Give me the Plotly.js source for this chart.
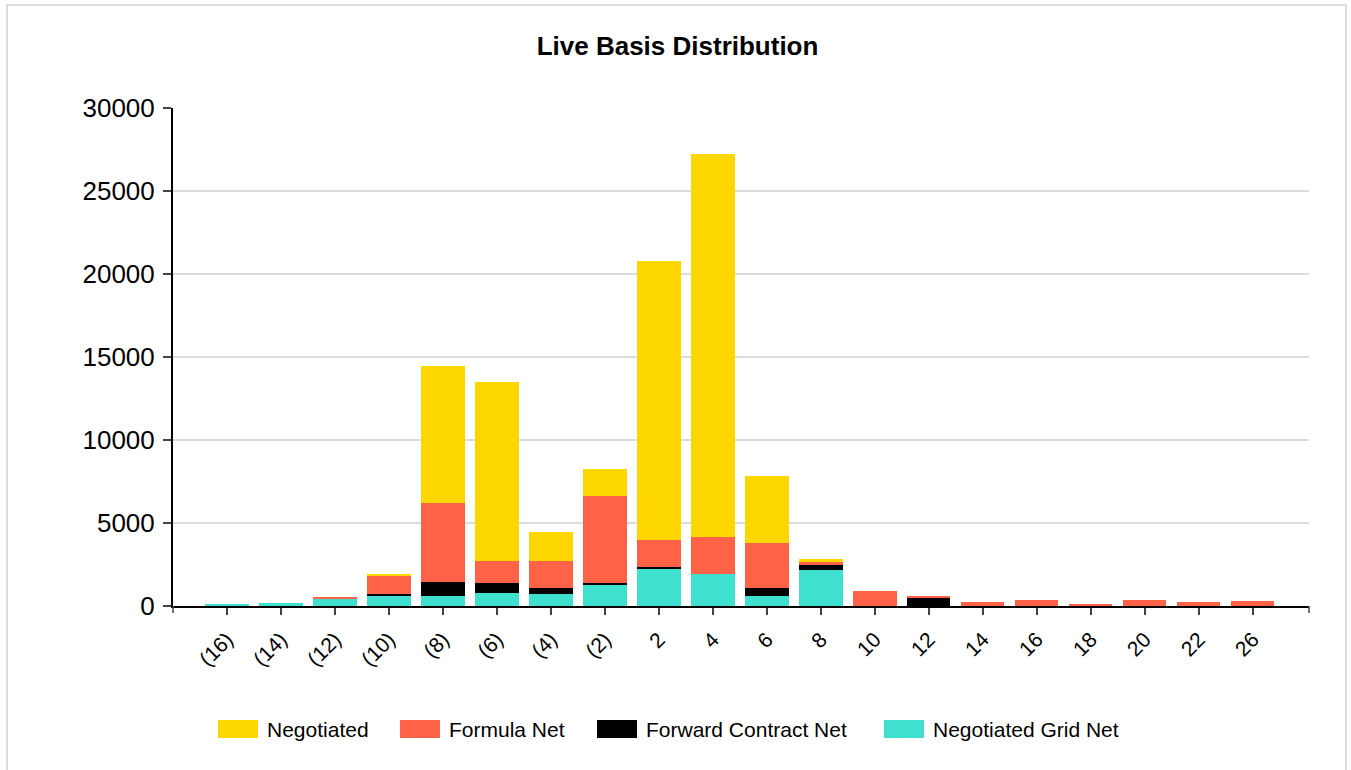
<!DOCTYPE html>
<html>
<head>
<meta charset="utf-8">
<script src="https://cdn.plot.ly/plotly-3.0.1.min.js"></script>
<style>
  html, body { margin: 0; padding: 0; background: #ffffff; }
  #frame { position: absolute; left: 6px; top: 4px; width: 1341px; height: 800px;
           border: 2px solid #dcdcdc; border-bottom: none; box-sizing: border-box; }
  #chart { position: absolute; left: 0; top: 0; width: 1351px; height: 770px; }
</style>
</head>
<body>
<div id="frame"></div>
<div id="chart"></div>
<script>
// ---- Data ----
const categories = ['(16)','(14)','(12)','(10)','(8)','(6)','(4)','(2)','2','4','6','8','10','12','14','16','18','20','22','26'];
const negotiatedGridNet = [130, 170, 440, 630, 630, 795, 734, 1294, 2256, 1937, 632, 2196, 0, 0, 0, 0, 0, 0, 0, 0];
const forwardContractNet = [0, 0, 30, 80, 825, 575, 379, 120, 121, 0, 481, 283, 0, 511, 0, 0, 20, 0, 0, 0];
const formulaNet = [0, 0, 25, 1140, 4775, 1325, 1625, 5235, 1624, 2245, 2690, 198, 890, 121, 230, 391, 60, 391, 271, 313];
const negotiated = [0, 0, 0, 45, 8200, 10770, 1744, 1624, 16787, 23044, 4031, 163, 0, 0, 0, 0, 0, 0, 0, 0];
const yTickValues = [0, 5000, 10000, 15000, 20000, 25000, 30000];

const seriesNames = ['Negotiated', 'Formula Net', 'Forward Contract Net', 'Negotiated Grid Net'];
const seriesColors = ['#FFD700', '#FF6347', '#000000', '#40E0D0'];

// ---- Traces (bottom of stack first) ----
const stackOrder = [
  {name: seriesNames[3], y: negotiatedGridNet, color: seriesColors[3]},
  {name: seriesNames[2], y: forwardContractNet, color: seriesColors[2]},
  {name: seriesNames[1], y: formulaNet, color: seriesColors[1]},
  {name: seriesNames[0], y: negotiated, color: seriesColors[0]}
];
const traces = stackOrder.map(s => ({
  type: 'bar', x: categories, y: s.y, name: s.name,
  marker: {color: s.color}, hoverinfo: 'x+y+name', showlegend: false
}));

// ---- Custom legend (wide swatches) ----
const plotL = 173, plotR = 1309, plotT = 108, plotB = 606;
const pw = plotR - plotL, ph = plotB - plotT;
const px = x => (x - plotL) / pw;
const py = y => (plotB - y) / ph;
const legendX = [218, 400, 597, 884];
const legendY = 729;
const shapes = [];
const annotations = [];
seriesNames.forEach((n, i) => {
  shapes.push({type: 'rect', xref: 'paper', yref: 'paper',
    x0: px(legendX[i]), x1: px(legendX[i] + 40), y0: py(legendY - 9), y1: py(legendY + 9),
    fillcolor: seriesColors[i], line: {width: 0}});
  annotations.push({xref: 'paper', yref: 'paper', x: px(legendX[i] + 47), y: py(legendY),
    xanchor: 'left', yanchor: 'middle', text: n, showarrow: false,
    font: {family: 'Liberation Sans, Arial, sans-serif', size: 21, color: '#000'}});
});
// outer ticks at both ends of x axis
[plotL, plotR].forEach(x => {
  shapes.push({type: 'line', xref: 'paper', yref: 'paper', x0: px(x), x1: px(x),
    y0: 0, y1: py(plotB + 7), line: {color: '#444', width: 1.5}});
});

const layout = {
  width: 1351, height: 770,
  margin: {l: plotL, r: 1351 - plotR, t: plotT, b: 770 - plotB, pad: 0},
  paper_bgcolor: 'rgba(0,0,0,0)', plot_bgcolor: 'rgba(0,0,0,0)',
  barmode: 'stack', bargap: 0.2,
  showlegend: false,
  font: {family: 'Liberation Sans, Arial, sans-serif', color: '#000'},
  title: {text: '<b>Live Basis Distribution</b>', x: 0.5015, xref: 'container', xanchor: 'center',
          y: 1 - 46 / 770, yref: 'container', yanchor: 'middle',
          font: {family: 'Liberation Sans, Arial, sans-serif', size: 26, color: '#000'}},
  xaxis: {type: 'category', range: [-1, 20.04], showgrid: false, zeroline: false,
          showline: true, linecolor: '#000', linewidth: 2,
          ticks: 'outside', ticklen: 7, tickcolor: '#444', tickwidth: 1.5,
          ticklabelstandoff: 4,
          tickangle: -45, tickfont: {size: 21, color: '#000'}, fixedrange: true},
  yaxis: {range: [0, 30000], tickvals: yTickValues, ticktext: yTickValues.map(String),
          showgrid: true, gridcolor: '#dcdcdc', gridwidth: 2, zeroline: false,
          showline: true, linecolor: '#000', linewidth: 2,
          ticks: 'outside', ticklen: 8, tickcolor: '#444', tickwidth: 1.5,
          ticklabelstandoff: 3,
          tickfont: {size: 26, color: '#000'}, fixedrange: true},
  shapes: shapes,
  annotations: annotations
};

Plotly.newPlot('chart', traces, layout, {displayModeBar: false, staticPlot: false});
</script>
</body>
</html>
